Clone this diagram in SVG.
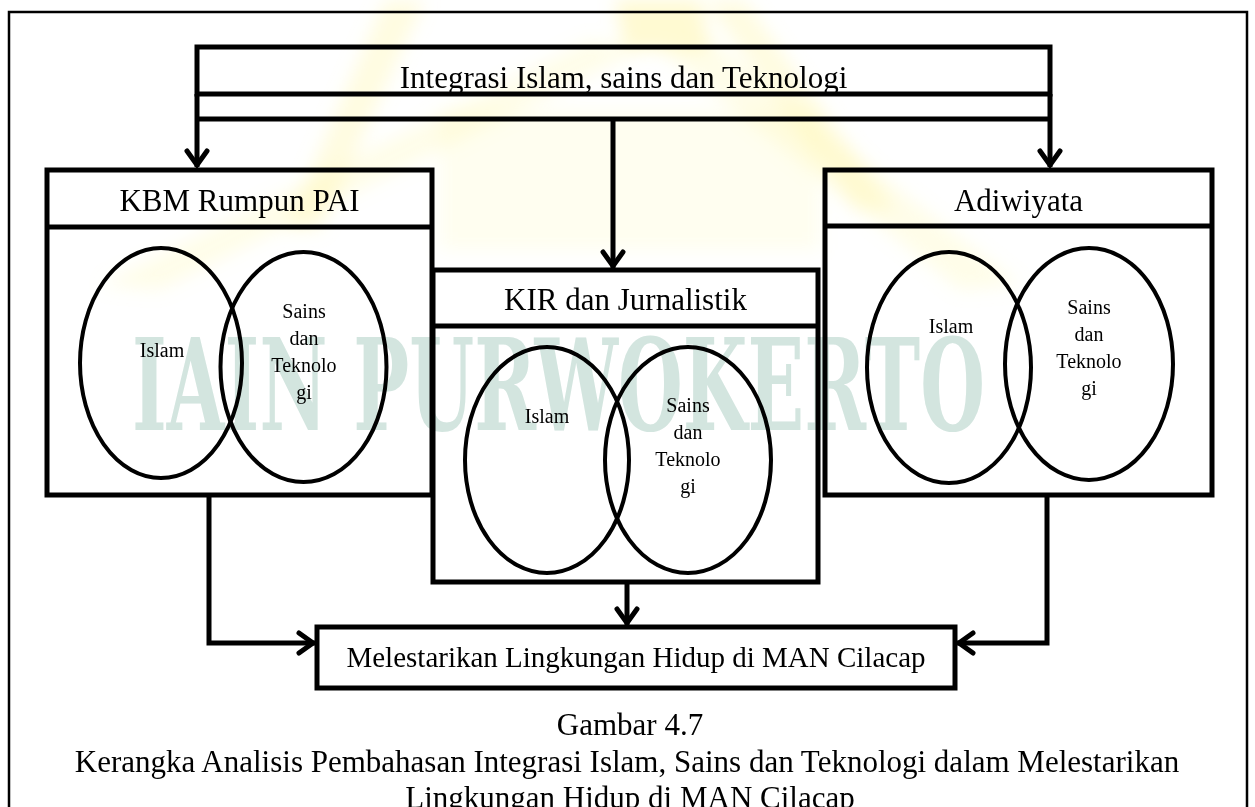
<svg xmlns="http://www.w3.org/2000/svg" width="1255" height="807" viewBox="0 0 1255 807">
  <style>
    .box { fill: none; stroke: #000; stroke-width: 5; }
    .div { stroke: #000; stroke-width: 5; }
    .venn { fill: none; stroke: #000; stroke-width: 4; }
    .wire { fill: none; stroke: #000; stroke-width: 5; }
    .head { font-family: "Liberation Serif", "Times New Roman", serif; font-size: 31px; fill: #000; text-anchor: middle; }
    .inner { font-family: "Liberation Serif", "Times New Roman", serif; font-size: 20px; fill: #000; text-anchor: middle; }
    .cap { font-family: "Liberation Serif", "Times New Roman", serif; font-size: 31px; fill: #000; text-anchor: middle; }
  </style>
  <defs>
    <marker id="arrow" markerUnits="userSpaceOnUse" markerWidth="40" markerHeight="40" viewBox="-20 -20 40 40" refX="0" refY="0" orient="auto">
      <path d="M-16,-10 L-2,0 L-16,10" fill="none" stroke="#000" stroke-width="5" stroke-linecap="round" stroke-linejoin="miter"/>
    </marker>
    <filter id="soft" x="-20%" y="-20%" width="140%" height="140%">
      <feGaussianBlur stdDeviation="9"/>
    </filter>
  </defs>

  <rect width="1255" height="807" fill="#fff"/>

  <!-- faint background logo and lettering -->
  <g id="backdrop">
    <g filter="url(#soft)" fill="#fff59c">
      <polygon points="615,0 700,0 710,50 625,50" opacity="0.45"/>
      <polygon points="590,40 640,50 160,290 100,285" opacity="0.22"/>
      <polygon points="660,50 710,40 1020,285 960,290" opacity="0.22"/>
      <polygon points="385,0 425,0 320,230 285,230" opacity="0.3"/>
      <polygon points="705,0 745,0 895,210 855,210" opacity="0.3"/>
      <polygon points="440,110 820,110 820,250 440,250" opacity="0.15"/>
    </g>
    <text x="132" y="430" textLength="853" lengthAdjust="spacingAndGlyphs" font-family="DejaVu Serif, serif" font-weight="bold" font-size="128" fill="#d3e5df">IAIN PURWOKERTO</text>
  </g>

  <!-- page frame -->
  <path d="M9,810 V12 H1247 V810" fill="none" stroke="#000" stroke-width="2.5"/>

  <g id="connectors">
    <path class="wire" d="M197,94 V167" marker-end="url(#arrow)"/>
    <path class="wire" d="M1050,94 V167" marker-end="url(#arrow)"/>
    <path class="wire" d="M197,119 H1050"/>
    <path class="wire" d="M613,119 V268" marker-end="url(#arrow)"/>
    <path class="wire" d="M209,495 V643 H315" marker-end="url(#arrow)"/>
    <path class="wire" d="M1047,495 V643 H957" marker-end="url(#arrow)"/>
    <path class="wire" d="M627,582 V625" marker-end="url(#arrow)"/>
  </g>

  <g id="integrasi">
    <rect class="box" x="197" y="47" width="853" height="47"/>
    <text class="head" x="623.5" y="88">Integrasi Islam, sains dan Teknologi</text>
  </g>

  <g id="kbm">
    <rect class="box" x="47" y="170" width="385" height="325"/>
    <line class="div" x1="47" y1="227" x2="432" y2="227"/>
    <text class="head" x="239.5" y="211">KBM Rumpun PAI</text>
    <ellipse class="venn" cx="161" cy="363" rx="81" ry="115"/>
    <ellipse class="venn" cx="303.5" cy="367" rx="83" ry="115"/>
    <text class="inner" x="162" y="357">Islam</text>
    <text class="inner" x="304" y="318">Sains</text>
    <text class="inner" x="304" y="345">dan</text>
    <text class="inner" x="304" y="372">Teknolo</text>
    <text class="inner" x="304" y="399">gi</text>
  </g>

  <g id="kir">
    <rect class="box" x="433" y="270" width="385" height="312"/>
    <line class="div" x1="433" y1="326" x2="818" y2="326"/>
    <text class="head" x="625.5" y="310">KIR dan Jurnalistik</text>
    <ellipse class="venn" cx="547" cy="460" rx="82" ry="113"/>
    <ellipse class="venn" cx="688" cy="460" rx="83" ry="113"/>
    <text class="inner" x="547" y="423">Islam</text>
    <text class="inner" x="688" y="412">Sains</text>
    <text class="inner" x="688" y="439">dan</text>
    <text class="inner" x="688" y="466">Teknolo</text>
    <text class="inner" x="688" y="493">gi</text>
  </g>

  <g id="adiwiyata">
    <rect class="box" x="825" y="170" width="387" height="325"/>
    <line class="div" x1="825" y1="226" x2="1212" y2="226"/>
    <text class="head" x="1018.5" y="211">Adiwiyata</text>
    <ellipse class="venn" cx="949" cy="367.5" rx="82" ry="115.5"/>
    <ellipse class="venn" cx="1089" cy="364" rx="84" ry="116"/>
    <text class="inner" x="951" y="333">Islam</text>
    <text class="inner" x="1089" y="314">Sains</text>
    <text class="inner" x="1089" y="341">dan</text>
    <text class="inner" x="1089" y="368">Teknolo</text>
    <text class="inner" x="1089" y="395">gi</text>
  </g>

  <g id="melestarikan">
    <rect class="box" x="317" y="627" width="638" height="61"/>
    <text class="head" x="636" y="667" style="font-size:29px">Melestarikan Lingkungan Hidup di MAN Cilacap</text>
  </g>

  <g id="caption">
    <text class="cap" x="630" y="735">Gambar 4.7</text>
    <text class="cap" x="627" y="772">Kerangka Analisis Pembahasan Integrasi Islam, Sains dan Teknologi dalam Melestarikan</text>
    <text class="cap" x="630" y="808">Lingkungan Hidup di MAN Cilacap</text>
  </g>
</svg>
